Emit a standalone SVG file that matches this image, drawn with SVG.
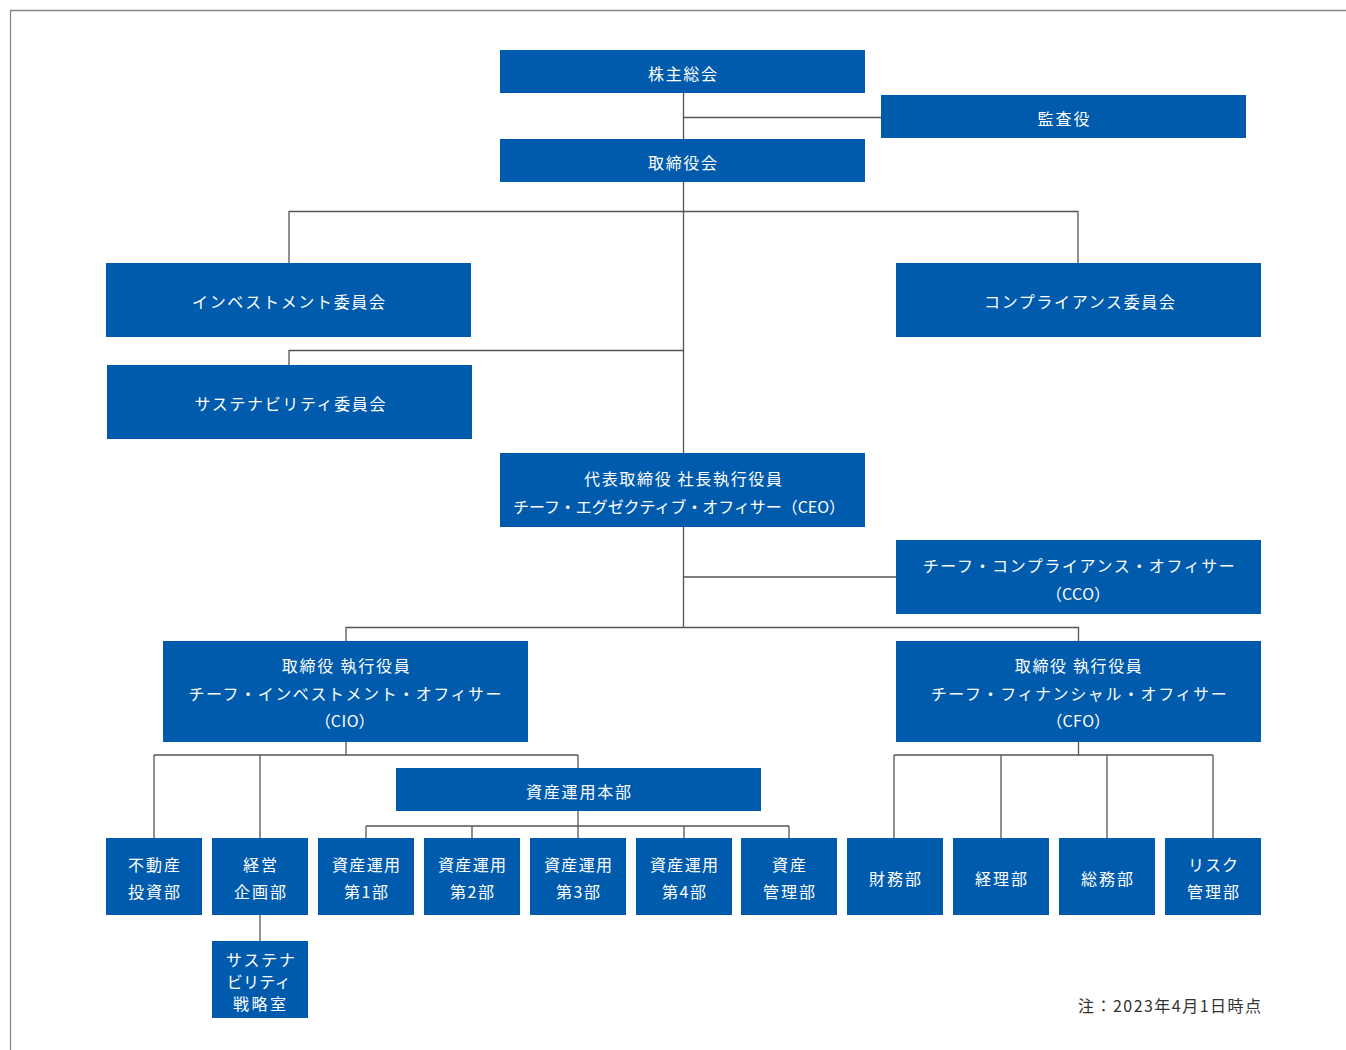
<svg xmlns="http://www.w3.org/2000/svg" width="1346" height="1050" viewBox="0 0 1346 1050">
<style>
.b{fill:#005bac}
.t{font-family:"Noto Sans CJK JP","Noto Sans",sans-serif;font-size:16px;fill:#ffffff;text-anchor:middle}
.p{font-feature-settings:"palt" 1;letter-spacing:0.5px}
.c line{stroke:#555555;stroke-width:1.3}
.n{font-family:"Noto Sans CJK JP","Noto Sans",sans-serif;font-size:16px;fill:#333333;text-anchor:end}
</style>
<rect width="1346" height="1050" fill="#ffffff"/>
<path d="M10.5 1050 V10.5 H1346" fill="none" stroke="#888888" stroke-width="1.3"/>
<g class="c" id="connectors">
<line x1="683.5" y1="93" x2="683.5" y2="139"/>
<line x1="683.5" y1="117.5" x2="881" y2="117.5"/>
<line x1="683.5" y1="182" x2="683.5" y2="453"/>
<line x1="289" y1="211.5" x2="1078" y2="211.5"/>
<line x1="289" y1="211" x2="289" y2="263"/>
<line x1="1078" y1="211" x2="1078" y2="263"/>
<line x1="289" y1="350.5" x2="683.5" y2="350.5"/>
<line x1="289" y1="350" x2="289" y2="365"/>
<line x1="683.5" y1="527" x2="683.5" y2="627.5"/>
<line x1="683.5" y1="577" x2="896" y2="577"/>
<line x1="346" y1="627.5" x2="1078.5" y2="627.5"/>
<line x1="346" y1="627" x2="346" y2="641"/>
<line x1="1078.5" y1="627" x2="1078.5" y2="641"/>
<line x1="346" y1="742" x2="346" y2="755"/>
<line x1="154" y1="755" x2="578" y2="755"/>
<line x1="154" y1="755" x2="154" y2="838"/>
<line x1="260" y1="755" x2="260" y2="838"/>
<line x1="578" y1="755" x2="578" y2="768"/>
<line x1="578" y1="811" x2="578" y2="838"/>
<line x1="366" y1="826" x2="789" y2="826"/>
<line x1="366" y1="826" x2="366" y2="838"/>
<line x1="472" y1="826" x2="472" y2="838"/>
<line x1="684" y1="826" x2="684" y2="838"/>
<line x1="789" y1="826" x2="789" y2="838"/>
<line x1="1078.5" y1="742" x2="1078.5" y2="755"/>
<line x1="894" y1="755" x2="1213" y2="755"/>
<line x1="894" y1="755" x2="894" y2="838"/>
<line x1="1001" y1="755" x2="1001" y2="838"/>
<line x1="1107" y1="755" x2="1107" y2="838"/>
<line x1="1213" y1="755" x2="1213" y2="838"/>
<line x1="260" y1="915" x2="260" y2="941"/>
</g>
<g id="shareholders"><rect class="b" x="500" y="50" width="365" height="43"/><text class="t" x="682.5" y="80" textLength="69">株主総会</text></g>
<g id="auditor"><rect class="b" x="881" y="95" width="365" height="43"/><text class="t" x="1063.5" y="125" textLength="52">監査役</text></g>
<g id="board"><rect class="b" x="500" y="139" width="365" height="43"/><text class="t" x="682.5" y="169" textLength="69">取締役会</text></g>
<g id="investment-committee"><rect class="b" x="106" y="263" width="365" height="74"/><text class="t" x="288.5" y="307.5" textLength="193">インベストメント委員会</text></g>
<g id="compliance-committee"><rect class="b" x="896" y="263" width="365" height="74"/><text class="t" x="1079.5" y="307.5" textLength="191">コンプライアンス委員会</text></g>
<g id="sustainability-committee"><rect class="b" x="107" y="365" width="365" height="74"/><text class="t" x="290" y="409.5" textLength="191">サステナビリティ委員会</text></g>
<g id="ceo"><rect class="b" x="500" y="453" width="365" height="74"/><text class="t" x="683" y="484.5" textLength="198">代表取締役 社長執行役員</text><text class="t" x="679" y="512.5" textLength="332">チーフ・エグゼクティブ・オフィサー（CEO）</text></g>
<g id="cco"><rect class="b" x="896" y="540" width="365" height="74"/><text class="t" x="1078.8" y="572" textLength="312">チーフ・コンプライアンス・オフィサー</text><text class="t p" x="1078.3" y="599.5">（CCO）</text></g>
<g id="cio"><rect class="b" x="163" y="641" width="365" height="101"/><text class="t" x="345.8" y="672" textLength="128">取締役 執行役員</text><text class="t" x="345" y="699.5" textLength="313">チーフ・インベストメント・オフィサー</text><text class="t p" x="345" y="727">（CIO）</text></g>
<g id="cfo"><rect class="b" x="896" y="641" width="365" height="101"/><text class="t" x="1078.3" y="672" textLength="127">取締役 執行役員</text><text class="t" x="1078.7" y="699.5" textLength="296">チーフ・フィナンシャル・オフィサー</text><text class="t p" x="1078.5" y="727">（CFO）</text></g>
<g id="asset-management-hq"><rect class="b" x="396" y="768" width="365" height="43"/><text class="t" x="578.5" y="798" textLength="105">資産運用本部</text></g>
<g id="real-estate-investment"><rect class="b" x="106" y="838" width="96" height="77"/><text class="t" x="154" y="871" textLength="52">不動産</text><text class="t" x="154" y="898" textLength="52">投資部</text></g>
<g id="corporate-planning"><rect class="b" x="212" y="838" width="96" height="77"/><text class="t" x="260" y="871" textLength="34">経営</text><text class="t" x="260" y="898" textLength="52">企画部</text></g>
<g id="am1"><rect class="b" x="318" y="838" width="96" height="77"/><text class="t" x="366" y="871" textLength="68">資産運用</text><text class="t" x="366" y="898" textLength="44">第1部</text></g>
<g id="am2"><rect class="b" x="424" y="838" width="96" height="77"/><text class="t" x="472" y="871" textLength="68">資産運用</text><text class="t" x="472" y="898" textLength="44">第2部</text></g>
<g id="am3"><rect class="b" x="530" y="838" width="96" height="77"/><text class="t" x="578" y="871" textLength="68">資産運用</text><text class="t" x="578" y="898" textLength="44">第3部</text></g>
<g id="am4"><rect class="b" x="636" y="838" width="96" height="77"/><text class="t" x="684" y="871" textLength="68">資産運用</text><text class="t" x="684" y="898" textLength="44">第4部</text></g>
<g id="asset-admin"><rect class="b" x="741" y="838" width="96" height="77"/><text class="t" x="789" y="871" textLength="34">資産</text><text class="t" x="789" y="898" textLength="52">管理部</text></g>
<g id="finance"><rect class="b" x="847" y="838" width="96" height="77"/><text class="t" x="895" y="884.5" textLength="52">財務部</text></g>
<g id="accounting"><rect class="b" x="953" y="838" width="96" height="77"/><text class="t" x="1001" y="884.5" textLength="52">経理部</text></g>
<g id="general-affairs"><rect class="b" x="1059" y="838" width="96" height="77"/><text class="t" x="1107" y="884.5" textLength="52">総務部</text></g>
<g id="risk-management"><rect class="b" x="1165" y="838" width="96" height="77"/><text class="t" x="1213" y="871" textLength="50">リスク</text><text class="t" x="1213" y="898" textLength="52">管理部</text></g>
<g id="sustainability-strategy"><rect class="b" x="212" y="941" width="96" height="77"/><text class="t" x="260.5" y="965.5" textLength="69">サステナ</text><text class="t" x="258.7" y="988" textLength="64">ビリティ</text><text class="t" x="259.5" y="1010" textLength="53">戦略室</text></g>
<text class="n" x="1261" y="1012" textLength="183">注：2023年4月1日時点</text>
</svg>
